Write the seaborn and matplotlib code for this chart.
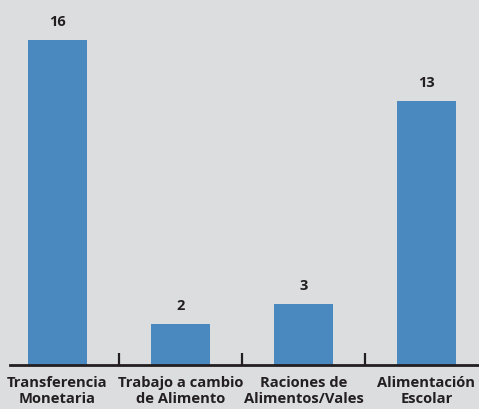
import matplotlib
matplotlib.use("Agg")
import matplotlib.pyplot as plt
import seaborn as sns
import pandas as pd

categories = ["Transferencia\nMonetaria", "Trabajo a cambio\nde Alimento",
              "Raciones de\nAlimentos/Vales", "Alimentación\nEscolar"]
values = [16, 2, 3, 13]

bg = "#dcdddf"
bar_color = "#4a89c0"
ink = "#231f20"

sns.set_theme(style="white")
plt.rcParams['font.family'] = ['Open Sans', 'DejaVu Sans']

df = pd.DataFrame({"cat": categories, "val": values})

fig = plt.figure(figsize=(4.79, 4.09), dpi=100, facecolor=bg)
ax = fig.add_axes([10/479, 44/409, 469/479, 365/409])
ax.set_facecolor(bg)

sns.barplot(data=df, x="cat", y="val", color=bar_color, width=0.48,
            saturation=1, linewidth=0, edgecolor=bar_color, ax=ax)

for i, v in enumerate(values):
    ax.text(i, v + 0.55, str(v), ha="center", va="bottom",
            fontsize=10.5, fontweight="bold", color=ink)

ax.set_xlim(-0.386, 3.427)
ax.set_ylim(0, 17.97)
ax.set_xlabel("")
ax.set_ylabel("")
ax.set_yticks([])
for s in ["top", "right", "left"]:
    ax.spines[s].set_visible(False)
ax.spines["bottom"].set_color(ink)
ax.spines["bottom"].set_linewidth(2)

ax.set_xticks(range(len(categories)))
ax.set_xticklabels(categories, fontsize=10.6, fontweight="bold", color=ink,
                   linespacing=1.2)
ax.tick_params(axis="x", which="major", length=0, pad=8)
ax.set_xticks([0.5, 1.5, 2.5], minor=True)
ax.tick_params(axis="x", which="minor", direction="in", length=9,
               width=1.6, color=ink, bottom=True)

fig.savefig("out.png", dpi=100, facecolor=bg)
